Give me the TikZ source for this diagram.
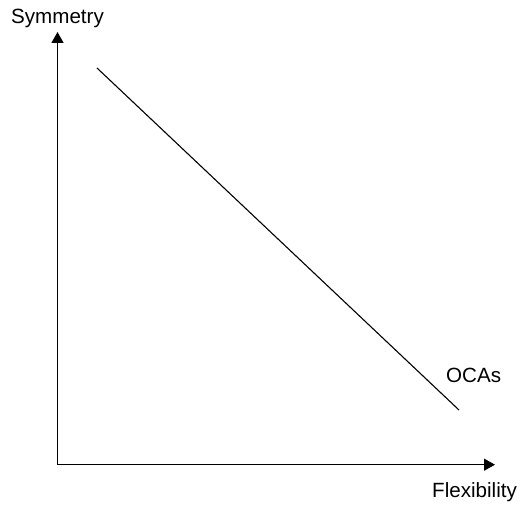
\documentclass[tikz,border=0pt]{standalone}
\usepackage{fontspec}
\setmainfont{Liberation Sans}
\usetikzlibrary{arrows.meta}
\begin{document}
\begin{tikzpicture}[x=1pt,y=1pt,
  axis/.style={line width=1.3pt,-{Triangle[length=11pt,width=12pt]}},
  curve/.style={line width=1.1pt},
  lbl/.style={inner sep=0pt,font=\fontsize{20.6}{24}\selectfont}]
\useasboundingbox (0,0) rectangle (520,504);
\coordinate (O) at (57.5,39.3);
\coordinate (ytip) at (57.5,472);
\coordinate (xtip) at (495,39.3);
\coordinate (s) at (97,436);
\coordinate (e) at (459,94);
\draw[axis] (O) -- (ytip);
\draw[axis] (O) -- (xtip);
\draw[curve] (s) -- (e);
\node[lbl,anchor=base] (sym) at (57.5,480) {Symmetry};
\node[lbl,anchor=base west] (flex) at (432,6) {Flexibility};
\node[lbl,anchor=base west] (oca) at (446,121) {OCAs};
\end{tikzpicture}
\end{document}
